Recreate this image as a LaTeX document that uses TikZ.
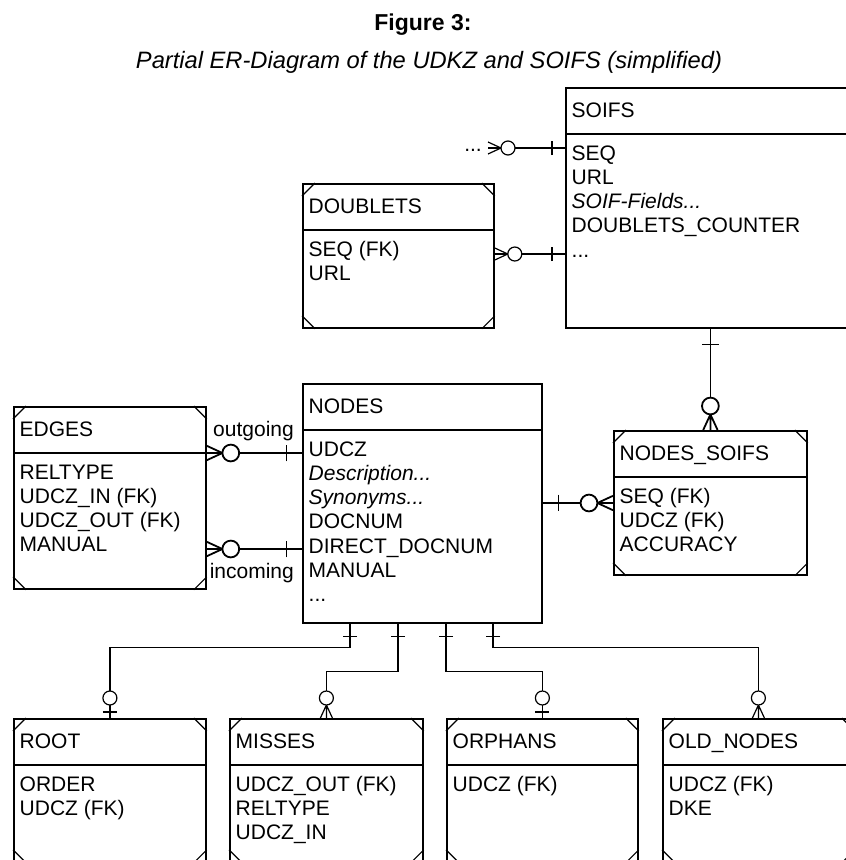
\documentclass[tikz,border=0pt]{standalone}
\usepackage{fontspec}
\setmainfont{Liberation Sans}
\usepackage{tikz}
\usetikzlibrary{positioning}

\newcommand\etcdots{...}
\newcommand\fields[3]{%
  \node[attr] (#1-0) at ([shift={(6.5,30)}]#1.north west) {#2};
  \foreach \t [count=\i] in {#3}
    \node[attr] (#1-\i) at ([shift={(6.5,{48.7+24.3*\i})}]#1.north west) {\t};}
\newcommand\corners[1]{%
  \draw[light] (#1.north west) ++(0,13) -- ++(13,-13)
    (#1.north east) ++(-13,0) -- ++(13,13)
    (#1.south west) ++(0,-13) -- ++(13,13)
    (#1.south east) ++(-13,0) -- ++(13,-13);}
\newcommand\manymark[3]{%
  \begin{scope}[shift={(#1)},rotate=#2,#3]
    \draw (0,-6) -- (13,0) -- (0,6) (0,0) -- (13,0);
    \draw[fill=white] (20,0) circle[radius=7];
  \end{scope}}
\newcommand\onemark[3]{%
  \begin{scope}[shift={(#1)},rotate=#2,#3]
    \draw (13,-7) -- (13,7);
  \end{scope}}
\newcommand\zeroonemark[3]{%
  \begin{scope}[shift={(#1)},rotate=#2,#3]
    \draw (6,-7) -- (6,7);
    \draw[fill=white] (20,0) circle[radius=7];
  \end{scope}}

\begin{document}
\begin{tikzpicture}[x=1pt, y=-1pt,
    box/.style={draw, line width=1.8pt, anchor=north west, inner sep=0},
    attr/.style={anchor=base west, inner sep=0, font=\fontsize{21}{24}\selectfont},
    light/.style={line width=1.2pt},
    heavy/.style={line width=1.8pt},
    big/.style={scale=1.2}]
  \clip (0,0) rectangle (846,860);

  \node[anchor=base, inner sep=0, font=\bfseries\fontsize{23}{28}\selectfont] (fig) at (423,30) {Figure 3:};
  \node[anchor=base, inner sep=0, font=\itshape\fontsize{23.7}{28}\selectfont] (caption) at (429,68)
    {Partial ER-Diagram of the UDKZ and SOIFS (simplified)};

  \node[box, minimum width=300pt, minimum height=240pt] (soifs) at (565,87) {};
  \node[box, minimum width=191pt, minimum height=144pt] (doublets) at (302,183) {};
  \node[box, minimum width=239pt, minimum height=239pt] (nodes) at (302,383) {};
  \node[box, minimum width=192pt, minimum height=182pt] (edges) at (13,406) {};
  \node[box, minimum width=193pt, minimum height=144pt] (nsoifs) at (613,430) {};
  \node[box, minimum width=192pt, minimum height=143pt] (root) at (13,718) {};
  \node[box, minimum width=193pt, minimum height=143pt] (misses) at (229,718) {};
  \node[box, minimum width=191pt, minimum height=143pt] (orphans) at (446,718) {};
  \node[box, minimum width=191pt, minimum height=143pt] (oldnodes) at (662,718) {};

  \foreach \e in {soifs,doublets,nodes,edges,nsoifs,root,misses,orphans,oldnodes}
    {\draw[heavy] ([yshift=-47pt]\e.north west) -- ([yshift=-47pt]\e.north east);}
  \foreach \e in {doublets,edges,nsoifs,root,misses,orphans,oldnodes}
    {\corners{\e}}

  \fields{soifs}{SOIFS}{SEQ, URL, \textit{SOIF-Fields\etcdots}, DOUBLETS\_COUNTER, \etcdots}
  \fields{doublets}{DOUBLETS}{SEQ (FK), URL}
  \fields{nodes}{NODES}{UDCZ, \textit{Description\etcdots}, \textit{Synonyms\etcdots}, DOCNUM,
    DIRECT\_DOCNUM, MANUAL, \etcdots}
  \fields{edges}{EDGES}{RELTYPE, UDCZ\_IN (FK), UDCZ\_OUT (FK), MANUAL}
  \fields{nsoifs}{NODES\_SOIFS}{SEQ (FK), UDCZ (FK), ACCURACY}
  \fields{root}{ROOT}{ORDER, UDCZ (FK)}
  \fields{misses}{MISSES}{UDCZ\_OUT (FK), RELTYPE, UDCZ\_IN}
  \fields{orphans}{ORPHANS}{UDCZ (FK)}
  \fields{oldnodes}{OLD\_NODES}{UDCZ (FK), DKE}

  \node[attr, anchor=base east] (more) at (482,151) {\etcdots};
  \coordinate (more-r) at (488,148);
  \draw[light] (more-r) -- (more-r -| soifs.west);
  \manymark{more-r}{0}{light}
  \onemark{more-r -| soifs.west}{180}{light}

  \draw[light] (doublets.east |- 0,254) -- (soifs.west |- 0,254);
  \manymark{doublets.east |- 0,254}{0}{light}
  \onemark{soifs.west |- 0,254}{180}{light}

  \draw[heavy] (nsoifs.north) -- (nsoifs.north |- soifs.south);
  \manymark{nsoifs.north}{90}{heavy,big}
  \onemark{nsoifs.north |- soifs.south}{-90}{heavy,big}

  \draw[heavy] (nodes.east |- 0,503) -- (nsoifs.west |- 0,503);
  \onemark{nodes.east |- 0,503}{0}{heavy,big}
  \manymark{nsoifs.west |- 0,503}{180}{heavy,big}

  \draw[heavy] (edges.east |- 0,453) -- (nodes.west |- 0,453);
  \manymark{edges.east |- 0,453}{0}{heavy,big}
  \onemark{nodes.west |- 0,453}{180}{heavy,big}
  \node[attr, anchor=base east] (outgoing) at (294,436) {outgoing};

  \draw[heavy] (edges.east |- 0,549) -- (nodes.west |- 0,549);
  \manymark{edges.east |- 0,549}{0}{heavy,big}
  \onemark{nodes.west |- 0,549}{180}{heavy,big}
  \node[attr, anchor=base east] (incoming) at (294,578) {incoming};

  \draw[light] (nodes.south -| 350,0) -- ++(0,24) -| (root.north);
  \draw[light] (nodes.south -| 398,0) -- ++(0,48) -| (misses.north);
  \draw[light] (nodes.south -| 446,0) -- ++(0,48) -| (orphans.north);
  \draw[light] (nodes.south -| 493,0) -- ++(0,24) -| (oldnodes.north);
  \foreach \x in {350,398,446,493}
    {\onemark{nodes.south -| \x,0}{-90}{light}}
  \zeroonemark{root.north}{90}{light}
  \manymark{misses.north}{90}{light}
  \zeroonemark{orphans.north}{90}{light}
  \manymark{oldnodes.north}{90}{light}
\end{tikzpicture}
\end{document}
